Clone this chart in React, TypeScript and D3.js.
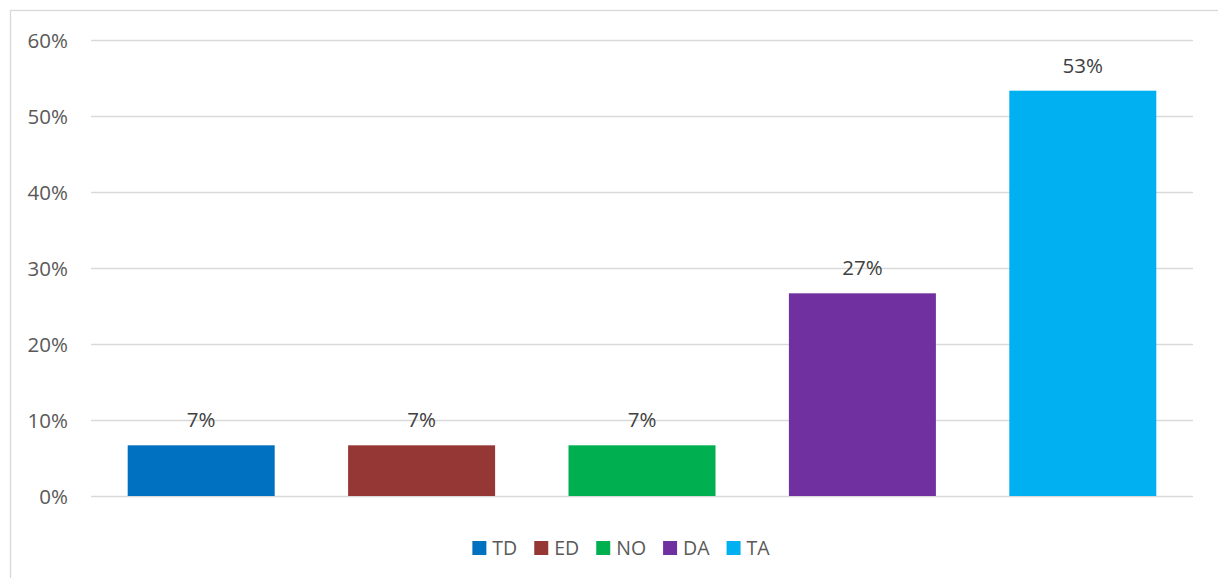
import React, { useEffect, useRef } from "react";
import * as d3 from "d3";

const categories = ["TD", "ED", "NO", "DA", "TA"];
const values = [6.67, 6.67, 6.67, 26.67, 53.33];
const colors = ["#0070C0", "#953735", "#00B050", "#7030A0", "#00B0F0"];
const yTicks = [0, 10, 20, 30, 40, 50, 60];

const W = 1218;
const H = 578;
const FONT = "'Open Sans', 'Noto Sans', sans-serif";

export default function App() {
  const ref = useRef<SVGSVGElement>(null);

  useEffect(() => {
    const svg = d3.select(ref.current);
    svg.selectAll("*").remove();

    // chart border (extends beyond the visible area on right/bottom)
    svg
      .append("rect")
      .attr("x", 10.5)
      .attr("y", 10.5)
      .attr("width", W + 20)
      .attr("height", H + 20)
      .attr("fill", "none")
      .attr("stroke", "#d9d9d9")
      .attr("stroke-width", 1.3);

    const x0 = 91, x1 = 1193, yTop = 40, yBottom = 496;
    const x = d3.scaleBand<string>().domain(categories).range([x0, x1]).paddingInner(0.333).paddingOuter(0.1665);
    const y = d3.scaleLinear().domain([0, 60]).range([yBottom, yTop]);

    const g = svg.append("g");
    g.selectAll("line.grid")
      .data(yTicks)
      .join("line")
      .attr("x1", x0)
      .attr("x2", x1)
      .attr("y1", (d) => Math.round(y(d)) + 0.5)
      .attr("y2", (d) => Math.round(y(d)) + 0.5)
      .attr("stroke", "#d9d9d9")
      .attr("stroke-width", 1.3);

    g.selectAll("text.ytick")
      .data(yTicks)
      .join("text")
      .attr("x", 68)
      .attr("y", (d) => y(d) + 7.5)
      .attr("text-anchor", "end")
      .attr("font-family", FONT)
      .attr("font-size", 20.5)
      .attr("fill", "#595959")
      .text((d) => `${d}%`);

    g.selectAll("rect.bar")
      .data(values)
      .join("rect")
      .attr("x", (_, i) => x(categories[i])!)
      .attr("width", x.bandwidth())
      .attr("y", (d) => y(d))
      .attr("height", (d) => yBottom - y(d))
      .attr("fill", (_, i) => colors[i]);

    g.selectAll("text.lbl")
      .data(values)
      .join("text")
      .attr("x", (_, i) => x(categories[i])! + x.bandwidth() / 2)
      .attr("y", (d) => y(d) - 18)
      .attr("text-anchor", "middle")
      .attr("font-family", FONT)
      .attr("font-size", 20.5)
      .attr("fill", "#404040")
      .text((d) => `${Math.round(d)}%`);

    // legend
    const canvas = document.createElement("canvas");
    const ctx = canvas.getContext("2d")!;
    ctx.font = `19.5px ${FONT}`;
    const sq = 14, gap1 = 6, gap2 = 17;
    const widths = categories.map((c) => sq + gap1 + ctx.measureText(c).width);
    const total = d3.sum(widths) + gap2 * (categories.length - 1);
    let cx = 621 - total / 2;
    const lg = svg.append("g");
    categories.forEach((c, i) => {
      lg.append("rect").attr("x", cx).attr("y", 541).attr("width", sq).attr("height", sq).attr("fill", colors[i]);
      lg.append("text")
        .attr("x", cx + sq + gap1)
        .attr("y", 555)
        .attr("font-family", FONT)
        .attr("font-size", 19.5)
        .attr("fill", "#595959")
        .text(c);
      cx += widths[i] + gap2;
    });
  }, []);

  return (
    <svg
      ref={ref}
      width={W}
      height={H}
      style={{ position: "absolute", left: 0, top: 0, background: "#fff" }}
    />
  );
}
